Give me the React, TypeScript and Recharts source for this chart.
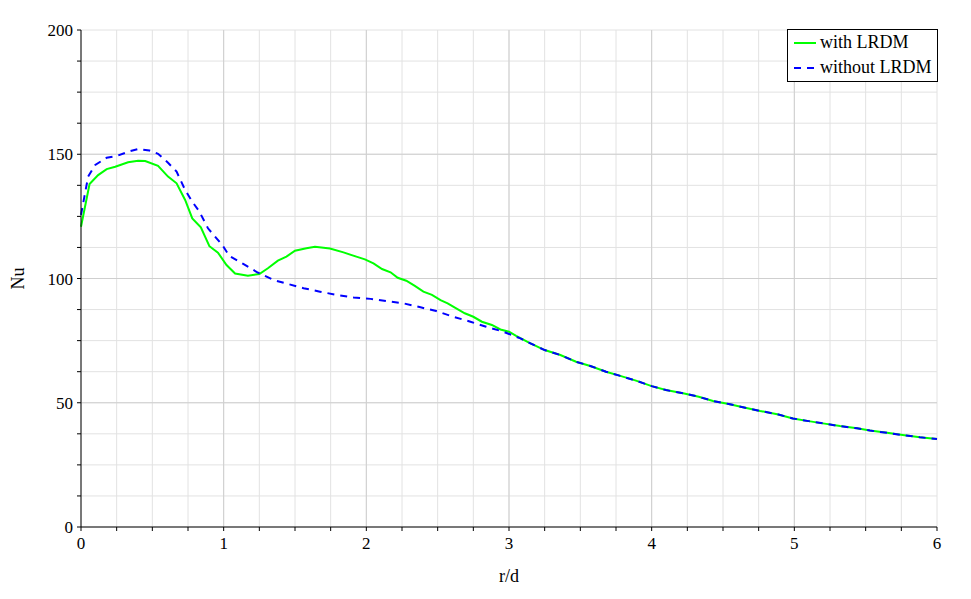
import React from 'react';
import { LineChart, Line, XAxis, YAxis, CartesianGrid, ReferenceLine, Label } from 'recharts';

// with LRDM (green, solid)
const withR = [0, 0.06, 0.12, 0.18, 0.24, 0.33, 0.4, 0.45, 0.54, 0.61, 0.67, 0.73, 0.78, 0.84, 0.9, 0.96, 1.02, 1.08, 1.17, 1.25, 1.31, 1.38, 1.44, 1.5, 1.58, 1.64, 1.745, 1.84, 1.93, 1.99, 2.05, 2.11, 2.17, 2.22, 2.28, 2.34, 2.4, 2.46, 2.52, 2.57, 2.63, 2.69, 2.75, 2.81, 2.88, 2.94, 3.0, 3.05, 3.14, 3.25, 3.36, 3.47, 3.57, 3.68, 3.78, 3.89, 4.0, 4.1, 4.22, 4.33, 4.43, 4.54, 4.64, 4.76, 4.88, 4.99, 5.1, 5.2, 5.32, 5.44, 5.53, 5.65, 5.76, 5.88, 6.0];
const withNu = [120.8, 138, 141.6, 144, 145, 146.8, 147.4, 147.3, 145.3, 141, 138.3, 131.6, 124.2, 120.6, 113, 110.4, 105.4, 102, 101.1, 101.8, 104.1, 107.2, 108.8, 111.2, 112.2, 112.8, 112.1, 110.5, 108.8, 107.7, 106.1, 103.8, 102.5, 100.3, 99.1, 97, 94.7, 93.4, 91.3, 90, 88, 86, 84.6, 82.6, 81.3, 79.5, 78.6, 76.9, 74.2, 71.2, 69.2, 66.5, 64.8, 62.5, 60.8, 58.9, 56.7, 55.1, 53.8, 52.4, 50.7, 49.5, 48.2, 46.7, 45.4, 43.7, 42.6, 41.7, 40.6, 39.7, 38.8, 37.9, 37, 36.1, 35.4];

// without LRDM (blue, dashed)
const withoutR = [0, 0.05, 0.1, 0.18, 0.25, 0.33, 0.4, 0.48, 0.54, 0.61, 0.67, 0.73, 0.78, 0.83, 0.89, 0.99, 1.04, 1.14, 1.23, 1.35, 1.45, 1.56, 1.675, 1.79, 1.91, 2.03, 2.14, 2.26, 2.38, 2.49, 2.61, 2.73, 2.84, 2.96, 3.08, 3.15, 3.25, 3.36, 3.47, 3.57, 3.68, 3.78, 3.89, 4.0, 4.1, 4.22, 4.33, 4.43, 4.54, 4.64, 4.76, 4.88, 4.99, 5.1, 5.2, 5.32, 5.44, 5.53, 5.65, 5.76, 5.88, 6.0];
const withoutNu = [125.6, 141, 145.7, 148.6, 149.3, 151, 152.1, 151.5, 150.2, 146.6, 143, 135.6, 130.9, 126.9, 120.2, 113.5, 109.1, 105.8, 102.7, 99.4, 97.8, 96.1, 94.7, 93.4, 92.4, 91.8, 90.9, 90, 88.4, 86.9, 84.6, 82.6, 80.6, 78.6, 75.9, 73.9, 71.2, 69.2, 66.5, 64.8, 62.5, 60.8, 58.9, 56.7, 55.1, 53.8, 52.4, 50.7, 49.5, 48.2, 46.7, 45.4, 43.7, 42.6, 41.7, 40.6, 39.7, 38.8, 37.9, 37, 36.1, 35.4];

const xTicks = [0, 0.25, 0.5, 0.75, 1, 1.25, 1.5, 1.75, 2, 2.25, 2.5, 2.75, 3, 3.25, 3.5, 3.75, 4, 4.25, 4.5, 4.75, 5, 5.25, 5.5, 5.75, 6];
const yTicks = [0, 12.5, 25, 37.5, 50, 62.5, 75, 87.5, 100, 112.5, 125, 137.5, 150, 162.5, 175, 187.5, 200];
const xMajor = [1, 2, 3, 4, 5];
const yMajor = [50, 100, 150];

const withData = withR.map((r, i) => ({ r, nu: withNu[i] }));
const withoutData = withoutR.map((r, i) => ({ r, nu: withoutNu[i] }));

const FONT = '"Liberation Serif", "Times New Roman", serif';

const LegendBox = () => (
  <div
    style={{
      position: 'absolute',
      left: 787,
      top: 29,
      border: '1px solid #000',
      background: '#fff',
      fontFamily: FONT,
      fontSize: 18,
      color: '#000',
      padding: '0px 5px 1px 5px',
      lineHeight: '25px',
      whiteSpace: 'nowrap',
    }}
  >
    <div style={{ display: 'flex', alignItems: 'center' }}>
      <svg width={24} height={10} style={{ marginRight: 3 }}>
        <line x1={1} y1={5} x2={23} y2={5} stroke="#00ff00" strokeWidth={2} />
      </svg>
      with LRDM
    </div>
    <div style={{ display: 'flex', alignItems: 'center' }}>
      <svg width={24} height={10} style={{ marginRight: 3 }}>
        <line x1={1} y1={5} x2={23} y2={5} stroke="#0000ff" strokeWidth={2} strokeDasharray="7 6" />
      </svg>
      without LRDM
    </div>
  </div>
);

export default function App() {
  const tickStyle = { fontFamily: FONT, fontSize: 17, fill: '#000', style: { fontFamily: FONT } };
  return (
    <div style={{ position: 'absolute', left: 0, top: 0, width: 971, height: 599, background: '#fff', fontFamily: FONT }}>
      <LineChart width={971} height={599} margin={{ top: 30, right: 34, left: 0, bottom: 0 }} style={{ fontFamily: FONT }}>
        <CartesianGrid stroke="#e2e2e2" strokeWidth={1} />
        {xMajor.map((v) => (
          <ReferenceLine key={`x${v}`} x={v} stroke="#cfcfcf" strokeWidth={1} />
        ))}
        {yMajor.map((v) => (
          <ReferenceLine key={`y${v}`} y={v} stroke="#cfcfcf" strokeWidth={1} />
        ))}
        <XAxis
          dataKey="r"
          type="number"
          domain={[0, 6]}
          ticks={xTicks}
          interval={0}
          allowDuplicatedCategory={false}
          height={72}
          tickSize={4}
          tickMargin={6}
          stroke="#000"
          tick={tickStyle}
          tickFormatter={(v: number) => (Number.isInteger(v) ? String(v) : '')}
        >
          <Label value="r/d" position="insideBottom" offset={17} style={{ fontFamily: FONT, fontSize: 18, fill: '#000' }} />
        </XAxis>
        <YAxis
          type="number"
          domain={[0, 200]}
          ticks={yTicks}
          interval={0}
          width={81}
          tickSize={4}
          tickMargin={4}
          stroke="#000"
          tick={tickStyle}
          tickFormatter={(v: number) => (v % 50 === 0 ? String(v) : '')}
        >
          <Label
            value="Nu"
            angle={-90}
            position="insideLeft"
            offset={18}
            style={{ fontFamily: FONT, fontSize: 18, fill: '#000', textAnchor: 'middle' }}
          />
        </YAxis>
        <Line
          data={withData}
          dataKey="nu"
          name="with LRDM"
          type="linear"
          stroke="#00ff00"
          strokeWidth={2}
          dot={false}
          activeDot={false}
          isAnimationActive={false}
        />
        <Line
          data={withoutData}
          dataKey="nu"
          name="without LRDM"
          type="linear"
          stroke="#0000ff"
          strokeWidth={2}
          strokeDasharray="7 6"
          dot={false}
          activeDot={false}
          isAnimationActive={false}
        />
      </LineChart>
      <LegendBox />
    </div>
  );
}
